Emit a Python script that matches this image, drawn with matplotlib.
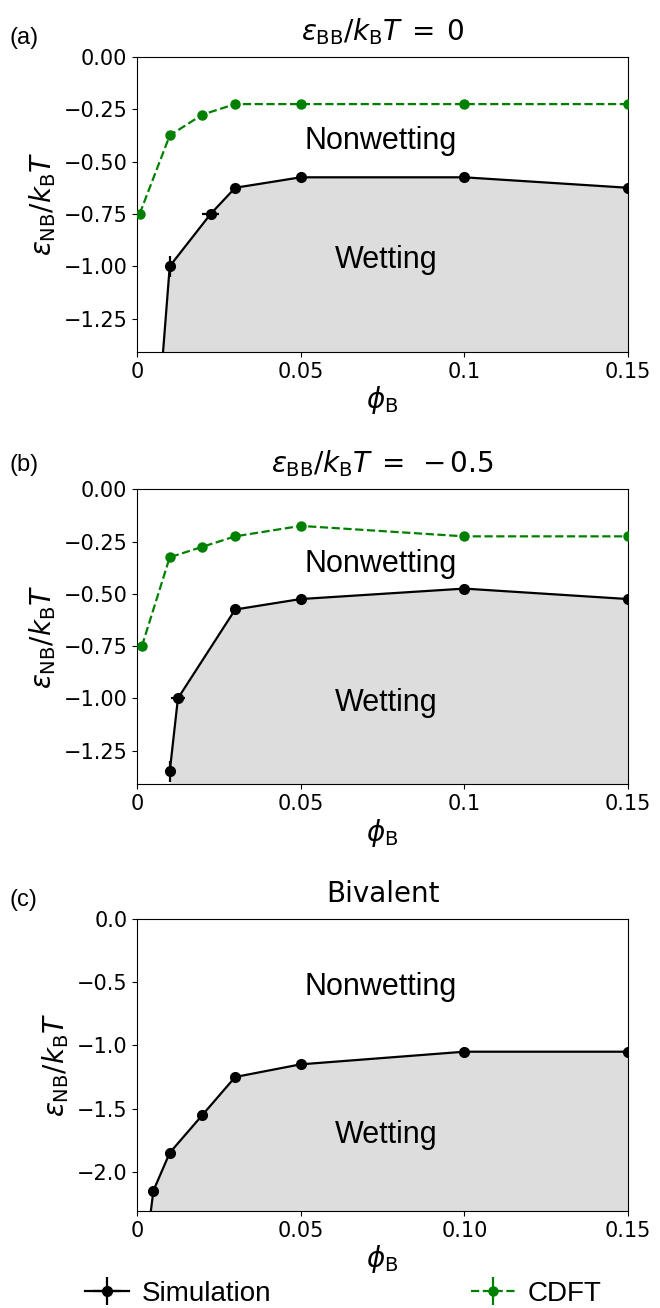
import matplotlib
matplotlib.use("Agg")
import matplotlib.pyplot as plt
import numpy as np

# panel (a): eps_BB = 0
sim_a_x = [0.0075, 0.01, 0.0225, 0.03, 0.05, 0.10, 0.15]
sim_a_y = [-1.5, -1.0, -0.75, -0.625, -0.575, -0.575, -0.625]
sim_a_xerr = [0, 0, 0.0025, 0, 0, 0, 0]
sim_a_yerr = [0, 0.05, 0, 0, 0, 0, 0]
cdft_a_x = [0.0008, 0.01, 0.02, 0.03, 0.05, 0.10, 0.15]
cdft_a_y = [-0.75, -0.375, -0.275, -0.225, -0.225, -0.225, -0.225]

# panel (b): eps_BB = -0.5
sim_b_x = [0.01, 0.0125, 0.03, 0.05, 0.10, 0.15]
sim_b_y = [-1.35, -1.0, -0.575, -0.525, -0.475, -0.525]
sim_b_xerr = [0, 0.0022, 0, 0, 0, 0]
sim_b_yerr = [0.05, 0, 0, 0, 0, 0]
cdft_b_x = [0.0015, 0.01, 0.02, 0.03, 0.05, 0.10, 0.15]
cdft_b_y = [-0.75, -0.325, -0.275, -0.225, -0.175, -0.225, -0.225]

# panel (c): bivalent
sim_c_x = [0.0038, 0.005, 0.01, 0.02, 0.03, 0.05, 0.10, 0.15]
sim_c_y = [-2.4, -2.15, -1.85, -1.55, -1.25, -1.15, -1.05, -1.05]
sim_c_xerr = [0, 0.0007, 0.0007, 0.0007, 0.0007, 0.0007, 0.0007, 0.0007]
sim_c_yerr = [0, 0.03, 0.03, 0.03, 0.03, 0.03, 0.03, 0.03]

titles = [r"$\varepsilon_{\rm BB}/k_{\rm B}T\:=\:0$",
          r"$\varepsilon_{\rm BB}/k_{\rm B}T\:=\:\:-\,0.5$",
          "Bivalent"]
panel_tags = ["(a)", "(b)", "(c)"]
xtick_vals = [0, 0.05, 0.10, 0.15]
xtick_ab = ["0", "0.05", "0.1", "0.15"]
xtick_c = ["0", "0.05", "0.10", "0.15"]
ytick_ab = [0.0, -0.25, -0.5, -0.75, -1.0, -1.25]
ytick_c = [0.0, -0.5, -1.0, -1.5, -2.0]

fig = plt.figure(figsize=(6.6, 13.08), dpi=100)
rects = [[0.2076, 0.7309, 0.7439, 0.2255],
         [0.2076, 0.4006, 0.7439, 0.2253],
         [0.2076, 0.0742, 0.7439, 0.2232]]
axes = [fig.add_axes(r) for r in rects]

sims = [(sim_a_x, sim_a_y, sim_a_xerr, sim_a_yerr),
        (sim_b_x, sim_b_y, sim_b_xerr, sim_b_yerr),
        (sim_c_x, sim_c_y, sim_c_xerr, sim_c_yerr)]
cdfts = [(cdft_a_x, cdft_a_y), (cdft_b_x, cdft_b_y), None]
ylims = [(-1.41, 0.0), (-1.41, 0.0), (-2.31, 0.0)]
label_y = [(-0.40, -0.97), (-0.355, -1.02), (-0.54, -1.71)]
tag_y = [1 - 38 / 1308, 1 - 465 / 1308, 1 - 900 / 1308]

for i, ax in enumerate(axes):
    sx, sy, sxe, sye = sims[i]
    ax.fill_between(sx + [0.15], sy + [sy[-1]], -5, color="#dddddd", lw=0, zorder=1)
    h_sim = ax.errorbar(sx, sy, xerr=sxe, yerr=sye, color="black", marker="o",
                        ms=7, lw=1.6, elinewidth=1.6, capsize=0, zorder=4,
                        label="Simulation")
    if cdfts[i] is not None:
        cx, cy = cdfts[i]
        h_cdft = ax.errorbar(cx, cy, yerr=[0] * len(cx), color="green", marker="o",
                             ms=6.5, lw=1.6, ls="--", elinewidth=1.6, capsize=0,
                             zorder=3, label="CDFT")
    ax.set_xlim(0, 0.15)
    ax.set_ylim(*ylims[i])
    ax.set_xticks(xtick_vals)
    ax.set_xticklabels(xtick_c if i == 2 else xtick_ab)
    if i == 2:
        ax.set_yticks(ytick_c)
        ax.set_yticklabels(["0.0", "\u22120.5", "\u22121.0", "\u22121.5", "\u22122.0"])
    else:
        ax.set_yticks(ytick_ab)
        ax.set_yticklabels(["0.00", "\u22120.25", "\u22120.50", "\u22120.75",
                            "\u22121.00", "\u22121.25"])
    ax.tick_params(labelsize=15)
    ax.set_xlabel(r"$\phi_{\rm B}$", fontsize=20, labelpad=2)
    ax.set_ylabel(r"$\varepsilon_{\rm NB}/k_{\rm B}T$", fontsize=20, labelpad=4)
    ax.set_title(titles[i], fontsize=20, pad=12)
    ax.text(0.0745, label_y[i][0], "Nonwetting", fontsize=22, ha="center",
            va="center", family="Liberation Sans", zorder=5)
    ax.text(0.076, label_y[i][1], "Wetting", fontsize=22, ha="center",
            va="center", family="Liberation Sans", zorder=5)
    fig.text(0.015, tag_y[i], panel_tags[i], fontsize=17,
             family="Liberation Sans", ha="left", va="center")

fig.legend(handles=[h_sim, h_cdft], labels=["Simulation", "CDFT"],
           loc="center", bbox_to_anchor=(0.52, 1 - 1294 / 1308), ncol=2, frameon=False,
           prop={"family": "Liberation Sans", "size": 20},
           handlelength=1.6, handletextpad=0.45, columnspacing=7.2,
           borderpad=0, borderaxespad=0)

fig.savefig("out.png", dpi=100)
